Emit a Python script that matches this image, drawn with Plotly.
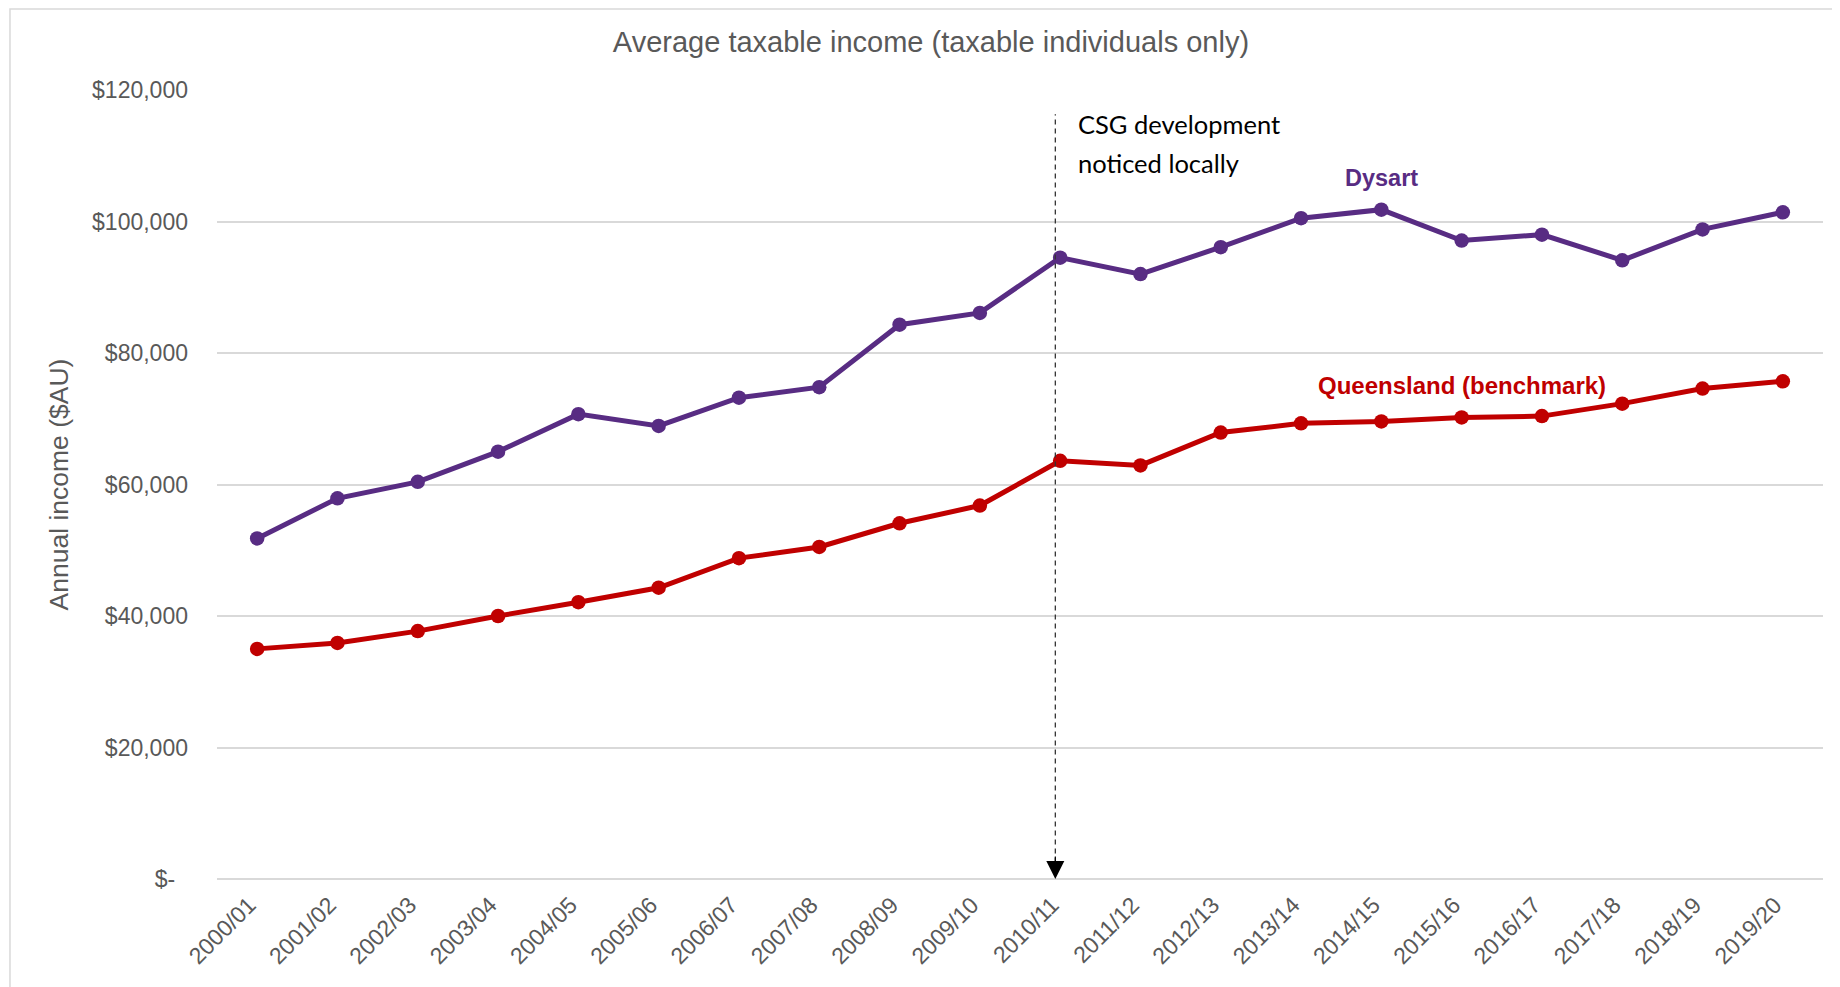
"""
Average taxable income: Dysart vs Queensland, 2000/01 to 2019/20.
"""

import plotly.graph_objects as go

# -------------------------------------------------
# DATA
# -------------------------------------------------

years = [
    "2000/01", "2001/02", "2002/03", "2003/04", "2004/05",
    "2005/06", "2006/07", "2007/08", "2008/09", "2009/10",
    "2010/11", "2011/12", "2012/13", "2013/14", "2014/15",
    "2015/16", "2016/17", "2017/18", "2018/19", "2019/20",
]

dysart = [
    51800, 57900, 60400, 65000, 70700,
    68900, 73200, 74800, 84300, 86100,
    94500, 92000, 96100, 100500, 101800,
    97100, 98000, 94100, 98800, 101400,
]

queensland = [
    35000, 35900, 37700, 40000, 42100,
    44300, 48800, 50500, 54100, 56800,
    63600, 62900, 67900, 69300, 69600,
    70200, 70400, 72300, 74600, 75700,
]

y_ticks = [0, 20000, 40000, 60000, 80000, 100000, 120000]
y_tick_labels = [
    "$-\u00a0\u00a0", "$20,000", "$40,000", "$60,000",
    "$80,000", "$100,000", "$120,000",
]

PURPLE = "#582C83"
RED = "#C00000"
GREY_TEXT = "#595959"
GRID = "#D9D9D9"

# -------------------------------------------------
# FIGURE
# -------------------------------------------------

fig = go.Figure()

fig.add_trace(
    go.Scatter(
        x=years,
        y=dysart,
        mode="lines+markers",
        name="Dysart",
        line=dict(color=PURPLE, width=5),
        marker=dict(color=PURPLE, size=14.5),
    )
)

fig.add_trace(
    go.Scatter(
        x=years,
        y=queensland,
        mode="lines+markers",
        name="Queensland (benchmark)",
        line=dict(color=RED, width=5),
        marker=dict(color=RED, size=14.5),
    )
)

# dashed marker line for 2010/11
fig.add_shape(
    type="line",
    xref="x",
    yref="y",
    x0=9.94,
    x1=9.94,
    y0=2500,
    y1=116300,
    line=dict(color="#333333", width=1.3, dash="5px,4px"),
    layer="above",
)

fig.add_annotation(
    x=9.94,
    y=0,
    xref="x",
    yref="y",
    ax=0,
    ay=-24,
    text="",
    showarrow=True,
    arrowhead=2,
    arrowsize=3,
    arrowwidth=1.2,
    arrowcolor="#000000",
)

for text, yval in [("CSG development", 114800), ("noticed locally", 108900)]:
    fig.add_annotation(
        x=10,
        y=yval,
        xref="x",
        yref="y",
        text=text,
        showarrow=False,
        xanchor="left",
        xshift=16,
        font=dict(family="Lato, Carlito, sans-serif", size=25.5, color="#000000"),
    )

fig.add_annotation(
    x=14,
    y=106600,
    xref="x",
    yref="y",
    text="<b>Dysart</b>",
    showarrow=False,
    font=dict(family="Arial, Liberation Sans", size=23.5, color=PURPLE),
)

fig.add_annotation(
    x=15,
    y=75000,
    xref="x",
    yref="y",
    text="<b>Queensland (benchmark)</b>",
    showarrow=False,
    font=dict(family="Arial, Liberation Sans", size=24, color=RED),
)

# y axis title
fig.add_annotation(
    x=-0.0984,
    y=0.5,
    xref="paper",
    yref="paper",
    xanchor="center",
    yanchor="middle",
    text="Annual income ($AU)",
    textangle=-90,
    showarrow=False,
    font=dict(family="Arial, Liberation Sans", size=26.5, color=GREY_TEXT),
)

# outer chart border
fig.add_shape(
    type="rect",
    xref="paper",
    yref="paper",
    x0=-0.1289,
    x1=1.2,
    y0=-0.3,
    y1=1.1027,
    line=dict(color=GRID, width=1.5),
    layer="below",
)

fig.update_layout(
    width=1840,
    height=987,
    plot_bgcolor="white",
    paper_bgcolor="white",
    showlegend=False,
    title=dict(
        text="Average taxable income (taxable individuals only)",
        x=0.5016,
        xanchor="center",
        y=0.9656,
        yanchor="middle",
        font=dict(family="Arial, Liberation Sans", size=29, color=GREY_TEXT),
    ),
    margin=dict(l=209, r=25, t=82, b=116),
    font=dict(family="Arial, Liberation Sans", color=GREY_TEXT),
)

fig.update_xaxes(
    type="category",
    range=[-0.5, 19.5],
    tickangle=-45,
    showgrid=False,
    showline=False,
    ticks="",
    ticklabelstandoff=7,
    ticklabelshift=-8,
    tickfont=dict(size=23, color=GREY_TEXT),
)

fig.update_yaxes(
    range=[0, 120000],
    tickvals=y_ticks,
    ticktext=y_tick_labels,
    showgrid=True,
    gridcolor=GRID,
    gridwidth=1.5,
    zeroline=True,
    zerolinecolor=GRID,
    zerolinewidth=1.5,
    showline=False,
    ticks="",
    ticklabelstandoff=28,
    tickfont=dict(size=23, color=GREY_TEXT),
)

fig.write_html("out.html")
